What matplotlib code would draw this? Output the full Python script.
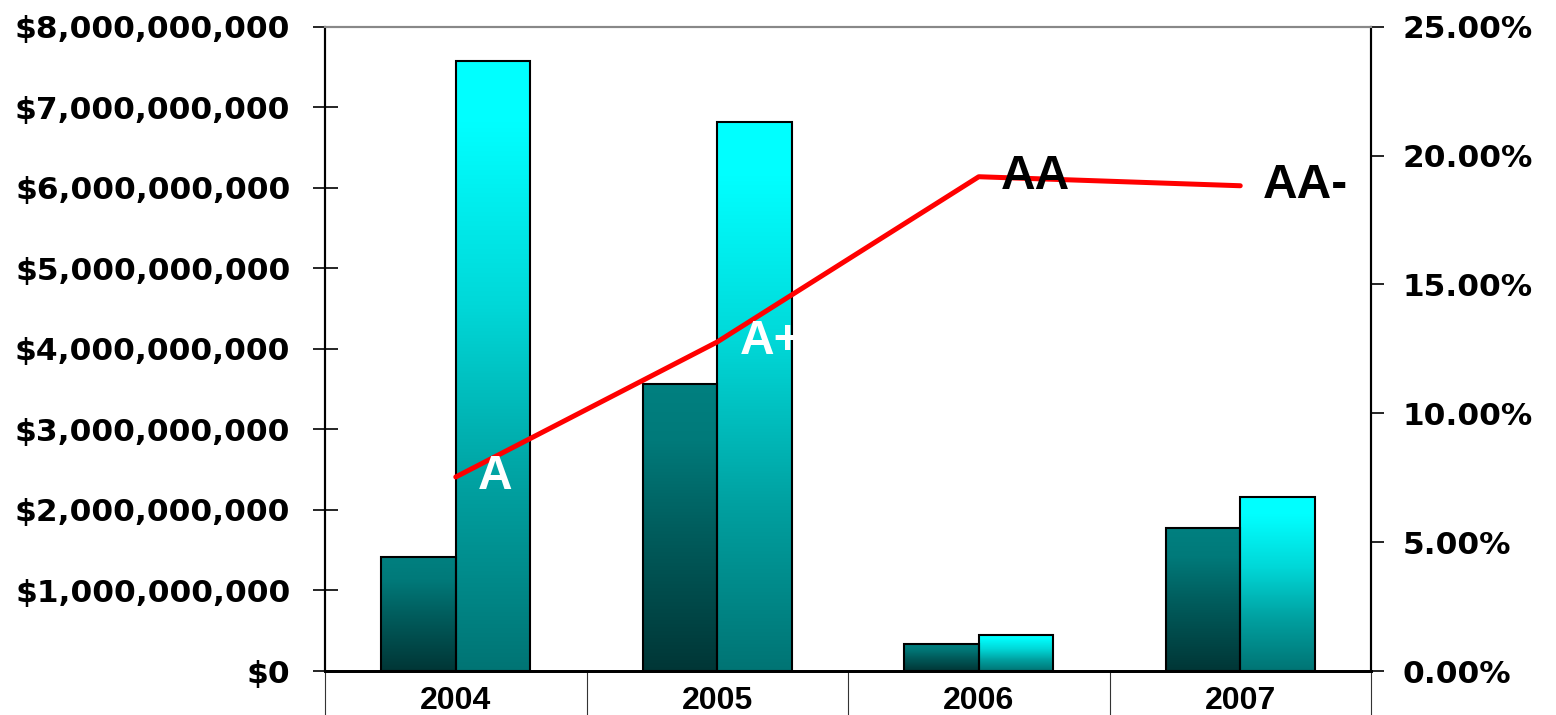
import numpy as np
import matplotlib.pyplot as plt
from matplotlib.colors import LinearSegmentedColormap
from matplotlib.ticker import FuncFormatter, FixedLocator

years = ['2004', '2005', '2006', '2007']
amount_dark = [1.42e9, 3.57e9, 0.34e9, 1.78e9]
amount_light = [7.57e9, 6.82e9, 0.45e9, 2.16e9]
pct = [7.53, 12.77, 19.18, 18.83]
ratings = ['A', 'A+', 'AA', 'AA-']
rating_colors = ['white', 'white', 'black', 'black']

fig = plt.figure(figsize=(15.56, 7.15), dpi=100)
ax = fig.add_axes([0.2089, 0.0615, 0.6722, 0.9011])
ax2 = ax.twinx()

x = np.arange(len(years))
w = 0.285

cmap_dark = LinearSegmentedColormap.from_list('dk', [(0, '#003636'), (0.5, '#005e5e'), (0.8, '#007a7a'), (1, '#008080')])
cmap_light = LinearSegmentedColormap.from_list('lt', [(0, '#007474'), (0.3, '#00a0a0'), (0.6, '#00d8d8'), (0.9, '#00ffff'), (1, '#00ffff')])
grad = np.linspace(0, 1, 256).reshape(-1, 1)

bars_dark = ax.bar(x - w / 2, amount_dark, w, facecolor='none', edgecolor='black', linewidth=1.5, zorder=3)
bars_light = ax.bar(x + w / 2, amount_light, w, facecolor='none', edgecolor='black', linewidth=1.5, zorder=3)

# fill each bar with a vertical gradient
for bars, cm in [(bars_dark, cmap_dark), (bars_light, cmap_light)]:
    for b in bars:
        x0, h = b.get_x(), b.get_height()
        im = ax.imshow(grad, cmap=cm, origin='lower', aspect='auto',
                       extent=[x0, x0 + b.get_width(), 0, h], zorder=2)
        im.set_clip_path(b)

ax.set_xlim(-0.5, 3.5)
ax.set_ylim(0, 8e9)
ax.yaxis.set_major_locator(FixedLocator(np.arange(0, 8.01e9, 1e9)))
ax.yaxis.set_major_formatter(FuncFormatter(lambda v, p: '${:,.0f}'.format(v)))
ax.tick_params(axis='y', direction='inout', length=18, width=1.2, pad=16, labelsize=22.5)
for lab in ax.get_yticklabels():
    lab.set_fontweight('bold')

# category dividers below the axis, year labels in between
ax.set_xticks(np.arange(-0.5, 4, 1))
ax.set_xticklabels([])
ax.tick_params(axis='x', which='major', direction='out', length=32, width=0.8, color='#333333')
ax.set_xticks(x, minor=True)
ax.set_xticklabels(years, minor=True, fontsize=23, fontweight='bold', family='Liberation Sans')
ax.tick_params(axis='x', which='minor', length=0, pad=11)

ax2.plot(x, pct, color='red', linewidth=3.6, solid_capstyle='round', zorder=5)
ax2.set_ylim(0, 25)
ax2.yaxis.set_major_locator(FixedLocator(np.arange(0, 25.1, 5)))
ax2.yaxis.set_major_formatter(FuncFormatter(lambda v, p: '{:.2f}%'.format(v)))
ax2.tick_params(axis='y', direction='out', length=9, width=1.2, pad=14, labelsize=22.5)
for lab in ax2.get_yticklabels():
    lab.set_fontweight('bold')

for xi, yi, r, c in zip(x, pct, ratings, rating_colors):
    ax2.annotate(r, (xi, yi), xytext=(16, 0), textcoords='offset points',
                 ha='left', va='center', fontsize=34.5, fontweight='bold',
                 family='Liberation Sans', color=c, zorder=6)

for a in (ax, ax2):
    a.spines['top'].set_color('#888888')
    a.spines['top'].set_linewidth(1.5)
    a.spines['left'].set_linewidth(1.5)
    a.spines['right'].set_linewidth(1.5)
    a.spines['bottom'].set_linewidth(2)

ax.set_zorder(1)
ax2.set_zorder(2)
ax2.patch.set_visible(False)

plt.savefig('out.png', dpi=100)
